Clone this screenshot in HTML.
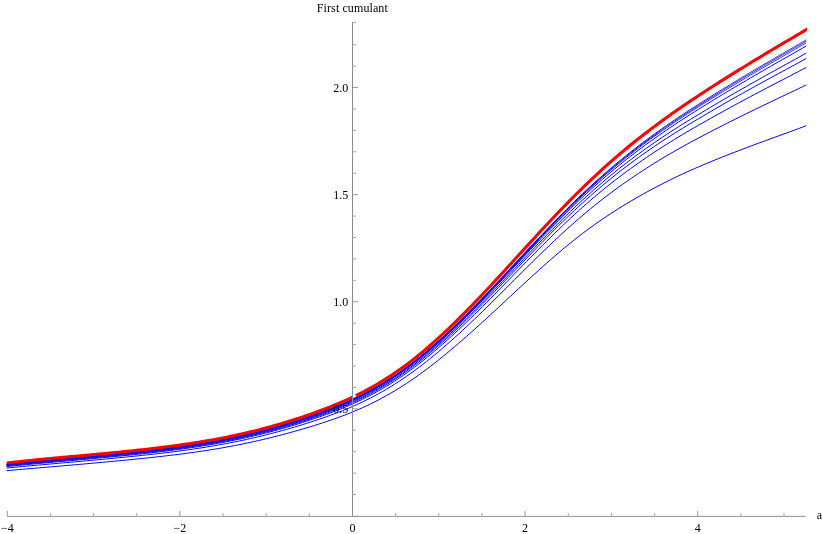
<!DOCTYPE html>
<html><head><meta charset="utf-8"><title>First cumulant</title>
<style>
html,body{margin:0;padding:0;background:#fff;}
body{width:822px;height:534px;overflow:hidden;}
svg{display:block;will-change:transform;}
text{font-family:"Liberation Serif",serif;font-size:12px;fill:#000;}
.ax{stroke:#8a8a8a;stroke-width:1;fill:none;}
.axh{stroke:#939393;stroke-width:1;fill:none;}
.tk{stroke:#989898;stroke-width:1;fill:none;}
.tkm{stroke:#a6a6a6;stroke-width:1;fill:none;}
.b{stroke:#0000ff;stroke-width:1.0;fill:none;stroke-linejoin:round;}
.t{stroke-width:1.15;}
.t2{stroke-width:0.8;}
.r{stroke:#ff0000;stroke-width:3.05;fill:none;stroke-linejoin:round;}
</style></head>
<body>
<svg width="822" height="534" viewBox="0 0 822 534">
<rect x="0" y="0" width="822" height="534" fill="#ffffff"/>
<defs><clipPath id="cb"><rect x="6.6" y="0" width="799.6" height="534"/></clipPath>
<clipPath id="cr"><rect x="6.6" y="0" width="800.4" height="534"/></clipPath></defs>
<g clip-path="url(#cb)">
<path class="b" d="M2.7,470.98 L6.7,470.62 L10.7,470.27 L14.7,469.93 L18.7,469.58 L22.7,469.24 L26.7,468.90 L30.7,468.57 L34.7,468.23 L38.7,467.89 L42.7,467.55 L46.7,467.21 L50.7,466.87 L54.7,466.53 L58.7,466.19 L62.7,465.84 L66.7,465.50 L70.7,465.16 L74.7,464.81 L78.7,464.46 L82.7,464.10 L86.7,463.74 L90.7,463.38 L94.7,463.02 L98.7,462.65 L102.7,462.28 L106.7,461.91 L110.7,461.54 L114.7,461.16 L118.7,460.78 L122.7,460.40 L126.7,460.02 L130.7,459.63 L134.7,459.23 L138.7,458.83 L142.7,458.42 L146.7,458.00 L150.7,457.58 L154.7,457.14 L158.7,456.70 L162.7,456.25 L166.7,455.79 L170.7,455.32 L174.7,454.83 L178.7,454.33 L182.7,453.82 L186.7,453.30 L190.7,452.76 L194.7,452.20 L198.7,451.63 L202.7,451.03 L206.7,450.42 L210.7,449.79 L214.7,449.14 L218.7,448.46 L222.7,447.77 L226.7,447.05 L230.7,446.32 L234.7,445.56 L238.7,444.77 L242.7,443.97 L246.7,443.14 L250.7,442.28 L254.7,441.40 L258.7,440.50 L262.7,439.57 L266.7,438.62 L270.7,437.65 L274.7,436.65 L278.7,435.63 L282.7,434.58 L286.7,433.52 L290.7,432.43 L294.7,431.31 L298.7,430.17 L302.7,429.01 L306.7,427.82 L310.7,426.61 L314.7,425.37 L318.7,424.11 L322.7,422.82 L326.7,421.50 L330.7,420.15 L334.7,418.75 L338.7,417.32 L342.7,415.84 L346.7,414.30 L350.7,412.71 L354.7,411.07 L358.7,409.36 L362.7,407.59 L366.7,405.75 L370.7,403.84 L374.7,401.86 L378.7,399.81 L382.7,397.68 L386.7,395.48 L390.7,393.20 L394.7,390.84 L398.7,388.41 L402.7,385.89 L406.7,383.29 L410.7,380.62 L414.7,377.87 L418.7,375.05 L422.7,372.15 L426.7,369.18 L430.7,366.15 L434.7,363.05 L438.7,359.88 L442.7,356.67 L446.7,353.39 L450.7,350.07 L454.7,346.70 L458.7,343.28 L462.7,339.81 L466.7,336.31 L470.7,332.77 L474.7,329.19 L478.7,325.58 L482.7,321.95 L486.7,318.29 L490.7,314.61 L494.7,310.91 L498.7,307.20 L502.7,303.48 L506.7,299.75 L510.7,296.02 L514.7,292.30 L518.7,288.58 L522.7,284.88 L526.7,281.18 L530.7,277.51 L534.7,273.87 L538.7,270.25 L542.7,266.67 L546.7,263.12 L550.7,259.61 L554.7,256.14 L558.7,252.72 L562.7,249.35 L566.7,246.03 L570.7,242.77 L574.7,239.57 L578.7,236.43 L582.7,233.36 L586.7,230.35 L590.7,227.41 L594.7,224.54 L598.7,221.73 L602.7,218.98 L606.7,216.29 L610.7,213.65 L614.7,211.07 L618.7,208.54 L622.7,206.06 L626.7,203.63 L630.7,201.24 L634.7,198.90 L638.7,196.60 L642.7,194.34 L646.7,192.12 L650.7,189.94 L654.7,187.80 L658.7,185.70 L662.7,183.64 L666.7,181.62 L670.7,179.64 L674.7,177.70 L678.7,175.79 L682.7,173.92 L686.7,172.09 L690.7,170.29 L694.7,168.53 L698.7,166.79 L702.7,165.08 L706.7,163.39 L710.7,161.74 L714.7,160.10 L718.7,158.48 L722.7,156.88 L726.7,155.30 L730.7,153.74 L734.7,152.19 L738.7,150.65 L742.7,149.13 L746.7,147.62 L750.7,146.12 L754.7,144.63 L758.7,143.15 L762.7,141.68 L766.7,140.22 L770.7,138.76 L774.7,137.31 L778.7,135.86 L782.7,134.41 L786.7,132.96 L790.7,131.51 L794.7,130.04 L798.7,128.56 L802.7,127.06 L806.7,125.54 L810.7,123.98"/>
<path class="b" d="M2.7,468.42 L6.7,468.03 L10.7,467.64 L14.7,467.26 L18.7,466.88 L22.7,466.51 L26.7,466.14 L30.7,465.78 L34.7,465.42 L38.7,465.06 L42.7,464.70 L46.7,464.34 L50.7,463.98 L54.7,463.63 L58.7,463.27 L62.7,462.92 L66.7,462.56 L70.7,462.21 L74.7,461.85 L78.7,461.50 L82.7,461.14 L86.7,460.77 L90.7,460.41 L94.7,460.04 L98.7,459.67 L102.7,459.29 L106.7,458.92 L110.7,458.54 L114.7,458.16 L118.7,457.77 L122.7,457.38 L126.7,456.99 L130.7,456.59 L134.7,456.18 L138.7,455.77 L142.7,455.34 L146.7,454.91 L150.7,454.47 L154.7,454.02 L158.7,453.56 L162.7,453.09 L166.7,452.61 L170.7,452.12 L174.7,451.61 L178.7,451.09 L182.7,450.56 L186.7,450.01 L190.7,449.44 L194.7,448.86 L198.7,448.26 L202.7,447.64 L206.7,447.00 L210.7,446.34 L214.7,445.66 L218.7,444.96 L222.7,444.24 L226.7,443.49 L230.7,442.72 L234.7,441.93 L238.7,441.12 L242.7,440.27 L246.7,439.41 L250.7,438.51 L254.7,437.60 L258.7,436.65 L262.7,435.68 L266.7,434.69 L270.7,433.67 L274.7,432.62 L278.7,431.55 L282.7,430.46 L286.7,429.33 L290.7,428.18 L294.7,427.01 L298.7,425.81 L302.7,424.58 L306.7,423.32 L310.7,422.04 L314.7,420.72 L318.7,419.38 L322.7,418.01 L326.7,416.61 L330.7,415.17 L334.7,413.69 L338.7,412.17 L342.7,410.60 L346.7,408.97 L350.7,407.29 L354.7,405.54 L358.7,403.73 L362.7,401.86 L366.7,399.91 L370.7,397.90 L374.7,395.81 L378.7,393.64 L382.7,391.40 L386.7,389.07 L390.7,386.67 L394.7,384.18 L398.7,381.61 L402.7,378.96 L406.7,376.22 L410.7,373.40 L414.7,370.50 L418.7,367.52 L422.7,364.47 L426.7,361.33 L430.7,358.12 L434.7,354.85 L438.7,351.51 L442.7,348.10 L446.7,344.64 L450.7,341.12 L454.7,337.54 L458.7,333.92 L462.7,330.24 L466.7,326.52 L470.7,322.76 L474.7,318.96 L478.7,315.12 L482.7,311.25 L486.7,307.35 L490.7,303.42 L494.7,299.48 L498.7,295.51 L502.7,291.53 L506.7,287.55 L510.7,283.55 L514.7,279.56 L518.7,275.56 L522.7,271.58 L526.7,267.61 L530.7,263.65 L534.7,259.71 L538.7,255.79 L542.7,251.91 L546.7,248.05 L550.7,244.23 L554.7,240.45 L558.7,236.71 L562.7,233.01 L566.7,229.36 L570.7,225.76 L574.7,222.21 L578.7,218.72 L582.7,215.30 L586.7,211.93 L590.7,208.63 L594.7,205.38 L598.7,202.20 L602.7,199.07 L606.7,195.99 L610.7,192.97 L614.7,190.01 L618.7,187.09 L622.7,184.23 L626.7,181.43 L630.7,178.67 L634.7,175.96 L638.7,173.29 L642.7,170.67 L646.7,168.09 L650.7,165.54 L654.7,163.04 L658.7,160.58 L662.7,158.15 L666.7,155.77 L670.7,153.42 L674.7,151.11 L678.7,148.83 L682.7,146.59 L686.7,144.38 L690.7,142.20 L694.7,140.05 L698.7,137.93 L702.7,135.81 L706.7,133.70 L710.7,131.61 L714.7,129.53 L718.7,127.48 L722.7,125.44 L726.7,123.42 L730.7,121.41 L734.7,119.42 L738.7,117.43 L742.7,115.46 L746.7,113.50 L750.7,111.54 L754.7,109.60 L758.7,107.67 L762.7,105.74 L766.7,103.82 L770.7,101.91 L774.7,100.01 L778.7,98.10 L782.7,96.20 L786.7,94.30 L790.7,92.40 L794.7,90.49 L798.7,88.56 L802.7,86.63 L806.7,84.68 L810.7,82.78"/>
<path class="b" d="M2.7,466.99 L6.7,466.58 L10.7,466.17 L14.7,465.77 L18.7,465.38 L22.7,464.99 L26.7,464.61 L30.7,464.24 L34.7,463.86 L38.7,463.49 L42.7,463.13 L46.7,462.76 L50.7,462.40 L54.7,462.04 L58.7,461.68 L62.7,461.32 L66.7,460.97 L70.7,460.61 L74.7,460.26 L78.7,459.90 L82.7,459.54 L86.7,459.18 L90.7,458.81 L94.7,458.44 L98.7,458.07 L102.7,457.70 L106.7,457.33 L110.7,456.95 L114.7,456.57 L118.7,456.18 L122.7,455.79 L126.7,455.39 L130.7,454.99 L134.7,454.58 L138.7,454.16 L142.7,453.74 L146.7,453.30 L150.7,452.86 L154.7,452.40 L158.7,451.94 L162.7,451.46 L166.7,450.97 L170.7,450.47 L174.7,449.95 L178.7,449.43 L182.7,448.88 L186.7,448.32 L190.7,447.75 L194.7,447.16 L198.7,446.55 L202.7,445.92 L206.7,445.27 L210.7,444.60 L214.7,443.91 L218.7,443.19 L222.7,442.46 L226.7,441.70 L230.7,440.92 L234.7,440.12 L238.7,439.29 L242.7,438.43 L246.7,437.55 L250.7,436.64 L254.7,435.71 L258.7,434.75 L262.7,433.76 L266.7,432.75 L270.7,431.71 L274.7,430.65 L278.7,429.56 L282.7,428.44 L286.7,427.29 L290.7,426.12 L294.7,424.92 L298.7,423.69 L302.7,422.43 L306.7,421.14 L310.7,419.83 L314.7,418.49 L318.7,417.11 L322.7,415.71 L326.7,414.27 L330.7,412.80 L334.7,411.28 L338.7,409.72 L342.7,408.11 L346.7,406.44 L350.7,404.72 L354.7,402.93 L358.7,401.08 L362.7,399.15 L366.7,397.16 L370.7,395.10 L374.7,392.96 L378.7,390.74 L382.7,388.44 L386.7,386.06 L390.7,383.60 L394.7,381.06 L398.7,378.43 L402.7,375.71 L406.7,372.91 L410.7,370.03 L414.7,367.06 L418.7,364.01 L422.7,360.88 L426.7,357.67 L430.7,354.39 L434.7,351.03 L438.7,347.61 L442.7,344.12 L446.7,340.57 L450.7,336.96 L454.7,333.30 L458.7,329.58 L462.7,325.81 L466.7,321.99 L470.7,318.13 L474.7,314.23 L478.7,310.29 L482.7,306.31 L486.7,302.31 L490.7,298.27 L494.7,294.22 L498.7,290.14 L502.7,286.05 L506.7,281.94 L510.7,277.83 L514.7,273.71 L518.7,269.60 L522.7,265.49 L526.7,261.39 L530.7,257.31 L534.7,253.24 L538.7,249.19 L542.7,245.17 L546.7,241.18 L550.7,237.22 L554.7,233.30 L558.7,229.42 L562.7,225.58 L566.7,221.78 L570.7,218.03 L574.7,214.34 L578.7,210.70 L582.7,207.12 L586.7,203.59 L590.7,200.13 L594.7,196.72 L598.7,193.37 L602.7,190.08 L606.7,186.84 L610.7,183.65 L614.7,180.52 L618.7,177.44 L622.7,174.42 L626.7,171.46 L630.7,168.54 L634.7,165.67 L638.7,162.85 L642.7,160.07 L646.7,157.33 L650.7,154.64 L654.7,151.98 L658.7,149.37 L662.7,146.79 L666.7,144.25 L670.7,141.75 L674.7,139.29 L678.7,136.85 L682.7,134.46 L686.7,132.09 L690.7,129.76 L694.7,127.45 L698.7,125.17 L702.7,122.88 L706.7,120.60 L710.7,118.33 L714.7,116.09 L718.7,113.86 L722.7,111.64 L726.7,109.44 L730.7,107.26 L734.7,105.08 L738.7,102.92 L742.7,100.77 L746.7,98.63 L750.7,96.50 L754.7,94.37 L758.7,92.26 L762.7,90.15 L766.7,88.06 L770.7,85.97 L774.7,83.88 L778.7,81.80 L782.7,79.73 L786.7,77.65 L790.7,75.57 L794.7,73.49 L798.7,71.40 L802.7,69.29 L806.7,67.19 L810.7,65.13"/>
<path class="b" d="M2.7,466.32 L6.7,465.89 L10.7,465.47 L14.7,465.07 L18.7,464.67 L22.7,464.27 L26.7,463.88 L30.7,463.50 L34.7,463.12 L38.7,462.75 L42.7,462.38 L46.7,462.01 L50.7,461.64 L54.7,461.28 L58.7,460.92 L62.7,460.56 L66.7,460.20 L70.7,459.85 L74.7,459.49 L78.7,459.13 L82.7,458.77 L86.7,458.41 L90.7,458.04 L94.7,457.67 L98.7,457.30 L102.7,456.93 L106.7,456.56 L110.7,456.18 L114.7,455.80 L118.7,455.41 L122.7,455.02 L126.7,454.62 L130.7,454.21 L134.7,453.80 L138.7,453.38 L142.7,452.95 L146.7,452.52 L150.7,452.07 L154.7,451.61 L158.7,451.14 L162.7,450.66 L166.7,450.17 L170.7,449.66 L174.7,449.14 L178.7,448.61 L182.7,448.06 L186.7,447.50 L190.7,446.92 L194.7,446.32 L198.7,445.70 L202.7,445.07 L206.7,444.41 L210.7,443.74 L214.7,443.04 L218.7,442.32 L222.7,441.58 L226.7,440.82 L230.7,440.03 L234.7,439.22 L238.7,438.38 L242.7,437.52 L246.7,436.63 L250.7,435.71 L254.7,434.77 L258.7,433.80 L262.7,432.81 L266.7,431.78 L270.7,430.74 L274.7,429.66 L278.7,428.56 L282.7,427.43 L286.7,426.27 L290.7,425.08 L294.7,423.87 L298.7,422.62 L302.7,421.35 L306.7,420.05 L310.7,418.72 L314.7,417.36 L318.7,415.96 L322.7,414.54 L326.7,413.09 L330.7,411.59 L334.7,410.06 L338.7,408.48 L342.7,406.84 L346.7,405.16 L350.7,403.41 L354.7,401.60 L358.7,399.72 L362.7,397.78 L366.7,395.76 L370.7,393.67 L374.7,391.50 L378.7,389.26 L382.7,386.93 L386.7,384.52 L390.7,382.03 L394.7,379.46 L398.7,376.80 L402.7,374.05 L406.7,371.21 L410.7,368.30 L414.7,365.29 L418.7,362.21 L422.7,359.04 L426.7,355.79 L430.7,352.47 L434.7,349.07 L438.7,345.60 L442.7,342.07 L446.7,338.48 L450.7,334.82 L454.7,331.11 L458.7,327.34 L462.7,323.52 L466.7,319.65 L470.7,315.74 L474.7,311.78 L478.7,307.79 L482.7,303.76 L486.7,299.69 L490.7,295.60 L494.7,291.49 L498.7,287.35 L502.7,283.19 L506.7,279.03 L510.7,274.85 L514.7,270.67 L518.7,266.49 L522.7,262.32 L526.7,258.15 L530.7,254.00 L534.7,249.86 L538.7,245.75 L542.7,241.66 L546.7,237.59 L550.7,233.56 L554.7,229.56 L558.7,225.60 L562.7,221.69 L566.7,217.81 L570.7,213.98 L574.7,210.21 L578.7,206.48 L582.7,202.82 L586.7,199.21 L590.7,195.66 L594.7,192.17 L598.7,188.73 L602.7,185.35 L606.7,182.02 L610.7,178.74 L614.7,175.52 L618.7,172.34 L622.7,169.24 L626.7,166.20 L630.7,163.21 L634.7,160.27 L638.7,157.37 L642.7,154.52 L646.7,151.71 L650.7,148.94 L654.7,146.21 L658.7,143.53 L662.7,140.88 L666.7,138.27 L670.7,135.70 L674.7,133.16 L678.7,130.66 L682.7,128.19 L686.7,125.75 L690.7,123.34 L694.7,120.96 L698.7,118.61 L702.7,116.24 L706.7,113.87 L710.7,111.52 L714.7,109.18 L718.7,106.86 L722.7,104.56 L726.7,102.27 L730.7,99.99 L734.7,97.73 L738.7,95.48 L742.7,93.24 L746.7,91.00 L750.7,88.78 L754.7,86.57 L758.7,84.37 L762.7,82.17 L766.7,79.98 L770.7,77.80 L774.7,75.63 L778.7,73.46 L782.7,71.30 L786.7,69.14 L790.7,66.97 L794.7,64.80 L798.7,62.62 L802.7,60.44 L806.7,58.25 L810.7,56.11"/>
<path class="b" d="M2.7,465.79 L6.7,465.36 L10.7,464.93 L14.7,464.52 L18.7,464.11 L22.7,463.71 L26.7,463.32 L30.7,462.93 L34.7,462.55 L38.7,462.17 L42.7,461.80 L46.7,461.43 L50.7,461.06 L54.7,460.69 L58.7,460.33 L62.7,459.97 L66.7,459.61 L70.7,459.26 L74.7,458.90 L78.7,458.54 L82.7,458.18 L86.7,457.82 L90.7,457.45 L94.7,457.08 L98.7,456.71 L102.7,456.34 L106.7,455.97 L110.7,455.59 L114.7,455.21 L118.7,454.82 L122.7,454.43 L126.7,454.03 L130.7,453.62 L134.7,453.21 L138.7,452.79 L142.7,452.36 L146.7,451.92 L150.7,451.47 L154.7,451.01 L158.7,450.53 L162.7,450.05 L166.7,449.55 L170.7,449.05 L174.7,448.52 L178.7,447.99 L182.7,447.44 L186.7,446.87 L190.7,446.29 L194.7,445.68 L198.7,445.06 L202.7,444.43 L206.7,443.77 L210.7,443.09 L214.7,442.38 L218.7,441.66 L222.7,440.92 L226.7,440.15 L230.7,439.36 L234.7,438.54 L238.7,437.70 L242.7,436.83 L246.7,435.93 L250.7,435.01 L254.7,434.06 L258.7,433.09 L262.7,432.09 L266.7,431.06 L270.7,430.00 L274.7,428.92 L278.7,427.81 L282.7,426.67 L286.7,425.50 L290.7,424.30 L294.7,423.08 L298.7,421.83 L302.7,420.54 L306.7,419.23 L310.7,417.89 L314.7,416.51 L318.7,415.11 L322.7,413.67 L326.7,412.21 L330.7,410.70 L334.7,409.15 L338.7,407.55 L342.7,405.91 L346.7,404.20 L350.7,402.44 L354.7,400.62 L358.7,398.72 L362.7,396.76 L366.7,394.72 L370.7,392.62 L374.7,390.43 L378.7,388.17 L382.7,385.82 L386.7,383.40 L390.7,380.89 L394.7,378.29 L398.7,375.61 L402.7,372.84 L406.7,369.98 L410.7,367.04 L414.7,364.02 L418.7,360.91 L422.7,357.71 L426.7,354.44 L430.7,351.09 L434.7,347.66 L438.7,344.17 L442.7,340.61 L446.7,336.98 L450.7,333.29 L454.7,329.55 L458.7,325.75 L462.7,321.90 L466.7,318.00 L470.7,314.05 L474.7,310.06 L478.7,306.03 L482.7,301.96 L486.7,297.86 L490.7,293.73 L494.7,289.58 L498.7,285.40 L502.7,281.21 L506.7,277.00 L510.7,272.79 L514.7,268.57 L518.7,264.35 L522.7,260.13 L526.7,255.92 L530.7,251.72 L534.7,247.54 L538.7,243.38 L542.7,239.25 L546.7,235.14 L550.7,231.06 L554.7,227.02 L558.7,223.01 L562.7,219.04 L566.7,215.12 L570.7,211.24 L574.7,207.42 L578.7,203.64 L582.7,199.93 L586.7,196.27 L590.7,192.66 L594.7,189.12 L598.7,185.62 L602.7,182.19 L606.7,178.80 L610.7,175.47 L614.7,172.19 L618.7,168.96 L622.7,165.81 L626.7,162.73 L630.7,159.69 L634.7,156.70 L638.7,153.76 L642.7,150.87 L646.7,148.02 L650.7,145.21 L654.7,142.44 L658.7,139.72 L662.7,137.03 L666.7,134.38 L670.7,131.76 L674.7,129.19 L678.7,126.64 L682.7,124.13 L686.7,121.66 L690.7,119.21 L694.7,116.79 L698.7,114.40 L702.7,111.99 L706.7,109.57 L710.7,107.17 L714.7,104.79 L718.7,102.43 L722.7,100.08 L726.7,97.74 L730.7,95.42 L734.7,93.11 L738.7,90.81 L742.7,88.52 L746.7,86.25 L750.7,83.98 L754.7,81.72 L758.7,79.48 L762.7,77.24 L766.7,75.01 L770.7,72.78 L774.7,70.57 L778.7,68.36 L782.7,66.15 L786.7,63.95 L790.7,61.74 L794.7,59.53 L798.7,57.32 L802.7,55.09 L806.7,52.86 L810.7,50.68"/>
<path class="b" d="M2.7,465.26 L6.7,464.82 L10.7,464.39 L14.7,463.97 L18.7,463.56 L22.7,463.15 L26.7,462.76 L30.7,462.36 L34.7,461.98 L38.7,461.60 L42.7,461.22 L46.7,460.84 L50.7,460.47 L54.7,460.10 L58.7,459.74 L62.7,459.38 L66.7,459.02 L70.7,458.66 L74.7,458.30 L78.7,457.94 L82.7,457.58 L86.7,457.22 L90.7,456.85 L94.7,456.48 L98.7,456.11 L102.7,455.74 L106.7,455.37 L110.7,454.99 L114.7,454.60 L118.7,454.22 L122.7,453.82 L126.7,453.42 L130.7,453.02 L134.7,452.60 L138.7,452.18 L142.7,451.74 L146.7,451.30 L150.7,450.85 L154.7,450.39 L158.7,449.91 L162.7,449.43 L166.7,448.93 L170.7,448.41 L174.7,447.89 L178.7,447.35 L182.7,446.79 L186.7,446.22 L190.7,445.63 L194.7,445.03 L198.7,444.40 L202.7,443.76 L206.7,443.10 L210.7,442.41 L214.7,441.71 L218.7,440.98 L222.7,440.23 L226.7,439.45 L230.7,438.66 L234.7,437.83 L238.7,436.98 L242.7,436.11 L246.7,435.21 L250.7,434.28 L254.7,433.33 L258.7,432.35 L262.7,431.34 L266.7,430.30 L270.7,429.24 L274.7,428.14 L278.7,427.02 L282.7,425.87 L286.7,424.70 L290.7,423.49 L294.7,422.26 L298.7,420.99 L302.7,419.69 L306.7,418.37 L310.7,417.01 L314.7,415.63 L318.7,414.21 L322.7,412.76 L326.7,411.28 L330.7,409.75 L334.7,408.19 L338.7,406.58 L342.7,404.91 L346.7,403.19 L350.7,401.42 L354.7,399.57 L358.7,397.66 L362.7,395.68 L366.7,393.63 L370.7,391.51 L374.7,389.31 L378.7,387.02 L382.7,384.66 L386.7,382.22 L390.7,379.69 L394.7,377.07 L398.7,374.37 L402.7,371.58 L406.7,368.70 L410.7,365.73 L414.7,362.68 L418.7,359.55 L422.7,356.33 L426.7,353.03 L430.7,349.65 L434.7,346.20 L438.7,342.68 L442.7,339.09 L446.7,335.44 L450.7,331.72 L454.7,327.94 L458.7,324.11 L462.7,320.23 L466.7,316.29 L470.7,312.31 L474.7,308.29 L478.7,304.22 L482.7,300.12 L486.7,295.99 L490.7,291.82 L494.7,287.63 L498.7,283.42 L502.7,279.19 L506.7,274.94 L510.7,270.69 L514.7,266.43 L518.7,262.17 L522.7,257.91 L526.7,253.66 L530.7,249.42 L534.7,245.20 L538.7,241.00 L542.7,236.82 L546.7,232.67 L550.7,228.55 L554.7,224.46 L558.7,220.41 L562.7,216.40 L566.7,212.43 L570.7,208.51 L574.7,204.63 L578.7,200.81 L582.7,197.05 L586.7,193.34 L590.7,189.69 L594.7,186.09 L598.7,182.55 L602.7,179.06 L606.7,175.62 L610.7,172.24 L614.7,168.91 L618.7,165.64 L622.7,162.41 L626.7,159.24 L630.7,156.12 L634.7,153.04 L638.7,150.01 L642.7,147.03 L646.7,144.09 L650.7,141.19 L654.7,138.33 L658.7,135.51 L662.7,132.73 L666.7,129.99 L670.7,127.28 L674.7,124.60 L678.7,121.96 L682.7,119.35 L686.7,116.78 L690.7,114.23 L694.7,111.71 L698.7,109.21 L702.7,106.71 L706.7,104.23 L710.7,101.76 L714.7,99.31 L718.7,96.87 L722.7,94.45 L726.7,92.05 L730.7,89.65 L734.7,87.27 L738.7,84.90 L742.7,82.54 L746.7,80.19 L750.7,77.85 L754.7,75.52 L758.7,73.20 L762.7,70.89 L766.7,68.59 L770.7,66.29 L774.7,64.01 L778.7,61.73 L782.7,59.45 L786.7,57.17 L790.7,54.90 L794.7,52.62 L798.7,50.34 L802.7,48.04 L806.7,45.75 L810.7,43.51"/>
<path class="b" style="stroke-width:1.15" d="M2.7,464.96 L6.7,464.52 L10.7,464.08 L14.7,463.66 L18.7,463.24 L22.7,462.83 L26.7,462.43 L30.7,462.04 L34.7,461.65 L38.7,461.26 L42.7,460.88 L46.7,460.51 L50.7,460.14 L54.7,459.77 L58.7,459.40 L62.7,459.04 L66.7,458.68 L70.7,458.32 L74.7,457.96 L78.7,457.60 L82.7,457.24 L86.7,456.87 L90.7,456.51 L94.7,456.14 L98.7,455.77 L102.7,455.40 L106.7,455.02 L110.7,454.64 L114.7,454.26 L118.7,453.87 L122.7,453.48 L126.7,453.08 L130.7,452.67 L134.7,452.25 L138.7,451.83 L142.7,451.40 L146.7,450.95 L150.7,450.50 L154.7,450.03 L158.7,449.56 L162.7,449.07 L166.7,448.57 L170.7,448.05 L174.7,447.52 L178.7,446.98 L182.7,446.42 L186.7,445.85 L190.7,445.26 L194.7,444.65 L198.7,444.03 L202.7,443.38 L206.7,442.71 L210.7,442.03 L214.7,441.32 L218.7,440.59 L222.7,439.83 L226.7,439.06 L230.7,438.26 L234.7,437.43 L238.7,436.58 L242.7,435.70 L246.7,434.80 L250.7,433.86 L254.7,432.91 L258.7,431.92 L262.7,430.91 L266.7,429.87 L270.7,428.80 L274.7,427.70 L278.7,426.57 L282.7,425.42 L286.7,424.24 L290.7,423.03 L294.7,421.78 L298.7,420.51 L302.7,419.21 L306.7,417.88 L310.7,416.51 L314.7,415.12 L318.7,413.69 L322.7,412.24 L326.7,410.74 L330.7,409.21 L334.7,407.64 L338.7,406.02 L342.7,404.34 L346.7,402.62 L350.7,400.83 L354.7,398.98 L358.7,397.06 L362.7,395.07 L366.7,393.01 L370.7,390.87 L374.7,388.66 L378.7,386.37 L382.7,383.99 L386.7,381.53 L390.7,378.99 L394.7,376.36 L398.7,373.65 L402.7,370.85 L406.7,367.95 L410.7,364.98 L414.7,361.91 L418.7,358.76 L422.7,355.53 L426.7,352.21 L430.7,348.82 L434.7,345.35 L438.7,341.81 L442.7,338.20 L446.7,334.53 L450.7,330.80 L454.7,327.00 L458.7,323.15 L462.7,319.25 L466.7,315.29 L470.7,311.29 L474.7,307.25 L478.7,303.16"/>
<path class="b" style="stroke-width:1.08" d="M478.7,303.16 L482.7,299.04 L486.7,294.88 L490.7,290.69 L494.7,286.48 L498.7,282.24 L502.7,277.99 L506.7,273.72 L510.7,269.44 L514.7,265.16 L518.7,260.87 L522.7,256.59 L526.7,252.31 L530.7,248.05 L534.7,243.80 L538.7,239.57"/>
<path class="b" style="stroke-width:1.0" d="M538.7,239.57 L542.7,235.37 L546.7,231.19 L550.7,227.04 L554.7,222.92 L558.7,218.84 L562.7,214.80 L566.7,210.80 L570.7,206.85 L574.7,202.95 L578.7,199.10 L582.7,195.30 L586.7,191.56 L590.7,187.88 L594.7,184.25 L598.7,180.67"/>
<path class="b" style="stroke-width:0.93" d="M598.7,180.67 L602.7,177.15 L606.7,173.68 L610.7,170.27 L614.7,166.91 L618.7,163.60 L622.7,160.35 L626.7,157.15 L630.7,154.00 L634.7,150.90 L638.7,147.85 L642.7,144.84 L646.7,141.87 L650.7,138.95 L654.7,136.07 L658.7,133.23"/>
<path class="b" style="stroke-width:0.86" d="M658.7,133.23 L662.7,130.43 L666.7,127.66 L670.7,124.93 L674.7,122.23 L678.7,119.57 L682.7,116.94 L686.7,114.34 L690.7,111.77 L694.7,109.23 L698.7,106.71 L702.7,104.19 L706.7,101.68 L710.7,99.18 L714.7,96.71 L718.7,94.24"/>
<path class="b" style="stroke-width:0.8" d="M718.7,94.24 L722.7,91.80 L726.7,89.36 L730.7,86.94 L734.7,84.54 L738.7,82.14 L742.7,79.75 L746.7,77.38 L750.7,75.01 L754.7,72.66 L758.7,70.31 L762.7,67.98 L766.7,65.65 L770.7,63.33 L774.7,61.02 L778.7,58.71 L782.7,56.41 L786.7,54.11 L790.7,51.82 L794.7,49.51 L798.7,47.21 L802.7,44.89 L806.7,42.58 L810.7,40.31"/>
<path class="b" style="stroke-width:1.15" d="M2.7,464.81 L6.7,464.36 L10.7,463.93 L14.7,463.50 L18.7,463.08 L22.7,462.67 L26.7,462.27 L30.7,461.87 L34.7,461.48 L38.7,461.10 L42.7,460.72 L46.7,460.34 L50.7,459.97 L54.7,459.60 L58.7,459.23 L62.7,458.87 L66.7,458.51 L70.7,458.15 L74.7,457.79 L78.7,457.43 L82.7,457.07 L86.7,456.70 L90.7,456.34 L94.7,455.97 L98.7,455.60 L102.7,455.23 L106.7,454.85 L110.7,454.47 L114.7,454.09 L118.7,453.70 L122.7,453.30 L126.7,452.90 L130.7,452.50 L134.7,452.08 L138.7,451.65 L142.7,451.22 L146.7,450.78 L150.7,450.32 L154.7,449.86 L158.7,449.38 L162.7,448.89 L166.7,448.39 L170.7,447.87 L174.7,447.34 L178.7,446.80 L182.7,446.24 L186.7,445.67 L190.7,445.08 L194.7,444.47 L198.7,443.84 L202.7,443.19 L206.7,442.52 L210.7,441.83 L214.7,441.12 L218.7,440.39 L222.7,439.64 L226.7,438.86 L230.7,438.06 L234.7,437.23 L238.7,436.38 L242.7,435.50 L246.7,434.59 L250.7,433.66 L254.7,432.70 L258.7,431.71 L262.7,430.69 L266.7,429.65 L270.7,428.58 L274.7,427.48 L278.7,426.35 L282.7,425.19 L286.7,424.01 L290.7,422.79 L294.7,421.55 L298.7,420.27 L302.7,418.97 L306.7,417.63 L310.7,416.26 L314.7,414.87 L318.7,413.44 L322.7,411.97 L326.7,410.48 L330.7,408.94 L334.7,407.36 L338.7,405.74 L342.7,404.06 L346.7,402.33 L350.7,400.54 L354.7,398.68 L358.7,396.75 L362.7,394.76 L366.7,392.69 L370.7,390.55 L374.7,388.33 L378.7,386.03 L382.7,383.66 L386.7,381.19 L390.7,378.64 L394.7,376.01 L398.7,373.29 L402.7,370.48 L406.7,367.58 L410.7,364.59 L414.7,361.52 L418.7,358.36 L422.7,355.12 L426.7,351.80 L430.7,348.40 L434.7,344.92 L438.7,341.37 L442.7,337.75 L446.7,334.07 L450.7,330.33 L454.7,326.52 L458.7,322.66 L462.7,318.75 L466.7,314.78 L470.7,310.77 L474.7,306.71 L478.7,302.62"/>
<path class="b" style="stroke-width:1.08" d="M478.7,302.62 L482.7,298.48 L486.7,294.31 L490.7,290.11 L494.7,285.89 L498.7,281.64 L502.7,277.37 L506.7,273.09 L510.7,268.80 L514.7,264.50 L518.7,260.20 L522.7,255.90 L526.7,251.62 L530.7,247.34 L534.7,243.08 L538.7,238.83"/>
<path class="b" style="stroke-width:1.0" d="M538.7,238.83 L542.7,234.61 L546.7,230.42 L550.7,226.26 L554.7,222.12 L558.7,218.03 L562.7,213.97 L566.7,209.96 L570.7,205.99 L574.7,202.07 L578.7,198.20 L582.7,194.39 L586.7,190.63 L590.7,186.93 L594.7,183.28 L598.7,179.69"/>
<path class="b" style="stroke-width:0.93" d="M598.7,179.69 L602.7,176.15 L606.7,172.66 L610.7,169.23 L614.7,165.85 L618.7,162.52 L622.7,159.26 L626.7,156.04 L630.7,152.88 L634.7,149.77 L638.7,146.70 L642.7,143.67 L646.7,140.70 L650.7,137.76 L654.7,134.87 L658.7,132.01"/>
<path class="b" style="stroke-width:0.86" d="M658.7,132.01 L662.7,129.19 L666.7,126.41 L670.7,123.67 L674.7,120.96 L678.7,118.28 L682.7,115.64 L686.7,113.03 L690.7,110.45 L694.7,107.89 L698.7,105.36 L702.7,102.82 L706.7,100.30 L710.7,97.79 L714.7,95.30 L718.7,92.83"/>
<path class="b" style="stroke-width:0.8" d="M718.7,92.83 L722.7,90.37 L726.7,87.93 L730.7,85.50 L734.7,83.08 L738.7,80.67 L742.7,78.27 L746.7,75.88 L750.7,73.51 L754.7,71.14 L758.7,68.79 L762.7,66.44 L766.7,64.10 L770.7,61.77 L774.7,59.45 L778.7,57.14 L782.7,54.83 L786.7,52.52 L790.7,50.21 L794.7,47.90 L798.7,45.59 L802.7,43.27 L806.7,40.94 L810.7,38.66"/>
<path class="b" style="stroke-width:1.15" d="M2.7,464.66 L6.7,464.21 L10.7,463.77 L14.7,463.34 L18.7,462.92 L22.7,462.51 L26.7,462.11 L30.7,461.71 L34.7,461.32 L38.7,460.93 L42.7,460.55 L46.7,460.17 L50.7,459.80 L54.7,459.43 L58.7,459.06 L62.7,458.70 L66.7,458.34 L70.7,457.98 L74.7,457.62 L78.7,457.26 L82.7,456.90 L86.7,456.53 L90.7,456.17 L94.7,455.80 L98.7,455.43 L102.7,455.06 L106.7,454.68 L110.7,454.30 L114.7,453.92 L118.7,453.53 L122.7,453.13 L126.7,452.73 L130.7,452.32 L134.7,451.91 L138.7,451.48 L142.7,451.05 L146.7,450.60 L150.7,450.15 L154.7,449.68 L158.7,449.20 L162.7,448.71 L166.7,448.21 L170.7,447.69 L174.7,447.16 L178.7,446.62 L182.7,446.06 L186.7,445.48 L190.7,444.89 L194.7,444.28 L198.7,443.65 L202.7,443.00 L206.7,442.33 L210.7,441.64 L214.7,440.93 L218.7,440.20 L222.7,439.44 L226.7,438.66 L230.7,437.86 L234.7,437.03 L238.7,436.17 L242.7,435.29 L246.7,434.38 L250.7,433.45 L254.7,432.49 L258.7,431.50 L262.7,430.48 L266.7,429.43 L270.7,428.36 L274.7,427.26 L278.7,426.13 L282.7,424.97 L286.7,423.78 L290.7,422.56 L294.7,421.31 L298.7,420.03 L302.7,418.72 L306.7,417.39 L310.7,416.01 L314.7,414.61 L318.7,413.18 L322.7,411.71 L326.7,410.21 L330.7,408.67 L334.7,407.09 L338.7,405.46 L342.7,403.78 L346.7,402.04 L350.7,400.24 L354.7,398.38 L358.7,396.45 L362.7,394.45 L366.7,392.38 L370.7,390.23 L374.7,388.01 L378.7,385.71 L382.7,383.32 L386.7,380.86 L390.7,378.30 L394.7,375.66 L398.7,372.93 L402.7,370.12 L406.7,367.21 L410.7,364.22 L414.7,361.14 L418.7,357.98 L422.7,354.73 L426.7,351.40 L430.7,347.99 L434.7,344.51 L438.7,340.95 L442.7,337.33 L446.7,333.64 L450.7,329.88 L454.7,326.07 L458.7,322.20 L462.7,318.28 L466.7,314.30 L470.7,310.28 L474.7,306.22 L478.7,302.11"/>
<path class="b" style="stroke-width:1.08" d="M478.7,302.11 L482.7,297.96 L486.7,293.79 L490.7,289.58 L494.7,285.34 L498.7,281.08 L502.7,276.80 L506.7,272.51 L510.7,268.21 L514.7,263.90 L518.7,259.59 L522.7,255.29 L526.7,250.99 L530.7,246.70 L534.7,242.43 L538.7,238.17"/>
<path class="b" style="stroke-width:1.0" d="M538.7,238.17 L542.7,233.94 L546.7,229.73 L550.7,225.56 L554.7,221.42 L558.7,217.31 L562.7,213.24 L566.7,209.21 L570.7,205.23 L574.7,201.30 L578.7,197.42 L582.7,193.59 L586.7,189.82 L590.7,186.11 L594.7,182.45 L598.7,178.84"/>
<path class="b" style="stroke-width:0.93" d="M598.7,178.84 L602.7,175.29 L606.7,171.79 L610.7,168.35 L614.7,164.95 L618.7,161.61 L622.7,158.33 L626.7,155.10 L630.7,151.92 L634.7,148.79 L638.7,145.71 L642.7,142.67 L646.7,139.68 L650.7,136.73 L654.7,133.82 L658.7,130.95"/>
<path class="b" style="stroke-width:0.86" d="M658.7,130.95 L662.7,128.12 L666.7,125.32 L670.7,122.56 L674.7,119.84 L678.7,117.15 L682.7,114.49 L686.7,111.86 L690.7,109.26 L694.7,106.69 L698.7,104.15 L702.7,101.60 L706.7,99.07 L710.7,96.56 L714.7,94.06 L718.7,91.58"/>
<path class="b" style="stroke-width:0.8" d="M718.7,91.58 L722.7,89.11 L726.7,86.66 L730.7,84.23 L734.7,81.80 L738.7,79.39 L742.7,76.98 L746.7,74.59 L750.7,72.21 L754.7,69.84 L758.7,67.48 L762.7,65.13 L766.7,62.78 L770.7,60.45 L774.7,58.13 L778.7,55.81 L782.7,53.49 L786.7,51.18 L790.7,48.88 L794.7,46.57 L798.7,44.25 L802.7,41.92 L806.7,39.60 L810.7,37.30"/>
</g>
<g clip-path="url(#cr)">
<path class="r" d="M2.7,463.46 L6.7,462.99 L10.7,462.54 L14.7,462.09 L18.7,461.66 L22.7,461.23 L26.7,460.82 L30.7,460.41 L34.7,460.01 L38.7,459.62 L42.7,459.23 L46.7,458.84 L50.7,458.46 L54.7,458.09 L58.7,457.72 L62.7,457.35 L66.7,456.99 L70.7,456.63 L74.7,456.27 L78.7,455.91 L82.7,455.55 L86.7,455.18 L90.7,454.82 L94.7,454.45 L98.7,454.08 L102.7,453.71 L106.7,453.33 L110.7,452.95 L114.7,452.57 L118.7,452.18 L122.7,451.78 L126.7,451.38 L130.7,450.97 L134.7,450.55 L138.7,450.12 L142.7,449.68 L146.7,449.23 L150.7,448.77 L154.7,448.30 L158.7,447.82 L162.7,447.32 L166.7,446.81 L170.7,446.29 L174.7,445.75 L178.7,445.20 L182.7,444.63 L186.7,444.05 L190.7,443.45 L194.7,442.83 L198.7,442.19 L202.7,441.54 L206.7,440.86 L210.7,440.16 L214.7,439.44 L218.7,438.69 L222.7,437.93 L226.7,437.14 L230.7,436.32 L234.7,435.48 L238.7,434.61 L242.7,433.72 L246.7,432.80 L250.7,431.85 L254.7,430.88 L258.7,429.87 L262.7,428.84 L266.7,427.78 L270.7,426.69 L274.7,425.57 L278.7,424.42 L282.7,423.24 L286.7,422.03 L290.7,420.79 L294.7,419.52 L298.7,418.22 L302.7,416.89 L306.7,415.52 L310.7,414.13 L314.7,412.70 L318.7,411.24 L322.7,409.74 L326.7,408.21 L330.7,406.64 L334.7,405.02 L338.7,403.36 L342.7,401.64 L346.7,399.87 L350.7,398.04 L353.0,396.96 M355.8,395.61 L359.8,393.63 L363.8,391.58 L367.8,389.45 L371.8,387.25 L375.8,384.97 L379.8,382.61 L383.8,380.17 L387.8,377.64 L391.8,375.02 L395.8,372.31 L399.8,369.52 L403.8,366.64 L407.8,363.66 L411.8,360.60 L415.8,357.45 L419.8,354.21 L423.8,350.89 L427.8,347.49 L431.8,344.01 L435.8,340.45 L439.8,336.81 L443.8,333.11 L447.8,329.35 L451.8,325.52 L455.8,321.62 L459.8,317.68 L463.8,313.67 L467.8,309.62 L471.8,305.52 L475.8,301.38 L479.8,297.19 L483.8,292.97 L487.8,288.71 L491.8,284.42 L495.8,280.10 L499.8,275.76 L503.8,271.41 L507.8,267.04 L511.8,262.66 L515.8,258.27 L519.8,253.88 L523.8,249.50 L527.8,245.12 L531.8,240.76 L535.8,236.41 L539.8,232.08 L543.8,227.77 L547.8,223.49 L551.8,219.24 L555.8,215.02 L559.8,210.84 L563.8,206.69 L567.8,202.59 L571.8,198.53 L575.8,194.52 L579.8,190.57 L583.8,186.66 L587.8,182.81 L591.8,179.02 L595.8,175.28 L599.8,171.60 L603.8,167.96 L607.8,164.38 L611.8,160.86 L615.8,157.39 L619.8,153.97 L623.8,150.60 L627.8,147.28 L631.8,144.02 L635.8,140.80 L639.8,137.63 L643.8,134.51 L647.8,131.44 L651.8,128.40 L655.8,125.41 L659.8,122.46 L663.8,119.54 L667.8,116.66 L671.8,113.82 L675.8,111.01 L679.8,108.23 L683.8,105.49 L687.8,102.78 L691.8,100.09 L695.8,97.43 L699.8,94.79 L703.8,92.18 L707.8,89.58 L711.8,87.00 L715.8,84.44 L719.8,81.90 L723.8,79.37 L727.8,76.86 L731.8,74.36 L735.8,71.87 L739.8,69.40 L743.8,66.94 L747.8,64.49 L751.8,62.05 L755.8,59.62 L759.8,57.20 L763.8,54.80 L767.8,52.40 L771.8,50.02 L775.8,47.64 L779.8,45.28 L783.8,42.92 L787.8,40.56 L791.8,38.21 L795.8,35.85 L799.8,33.49 L803.8,31.13 L807.8,28.76 L811.8,26.37"/>
</g>
<g>
<line x1="7" y1="516.4" x2="805.7" y2="516.4" class="axh"/>
<line x1="352.5" y1="22" x2="352.5" y2="516.9" class="ax"/>
<line x1="7.30" y1="516.4" x2="7.30" y2="511.00" class="tk"/>
<line x1="50.45" y1="516.4" x2="50.45" y2="513.00" class="tkm"/>
<line x1="93.60" y1="516.4" x2="93.60" y2="513.00" class="tkm"/>
<line x1="136.75" y1="516.4" x2="136.75" y2="513.00" class="tkm"/>
<line x1="179.90" y1="516.4" x2="179.90" y2="511.00" class="tk"/>
<line x1="223.05" y1="516.4" x2="223.05" y2="513.00" class="tkm"/>
<line x1="266.20" y1="516.4" x2="266.20" y2="513.00" class="tkm"/>
<line x1="309.35" y1="516.4" x2="309.35" y2="513.00" class="tkm"/>
<line x1="395.65" y1="516.4" x2="395.65" y2="513.00" class="tkm"/>
<line x1="438.80" y1="516.4" x2="438.80" y2="513.00" class="tkm"/>
<line x1="481.95" y1="516.4" x2="481.95" y2="513.00" class="tkm"/>
<line x1="525.10" y1="516.4" x2="525.10" y2="511.00" class="tk"/>
<line x1="568.25" y1="516.4" x2="568.25" y2="513.00" class="tkm"/>
<line x1="611.40" y1="516.4" x2="611.40" y2="513.00" class="tkm"/>
<line x1="654.55" y1="516.4" x2="654.55" y2="513.00" class="tkm"/>
<line x1="697.70" y1="516.4" x2="697.70" y2="511.00" class="tk"/>
<line x1="740.85" y1="516.4" x2="740.85" y2="513.00" class="tkm"/>
<line x1="784.00" y1="516.4" x2="784.00" y2="513.00" class="tkm"/>
<line x1="352.5" y1="516.40" x2="358.00" y2="516.40" class="tk"/>
<line x1="352.5" y1="494.53" x2="356.00" y2="494.53" class="tkm"/>
<line x1="352.5" y1="473.11" x2="356.00" y2="473.11" class="tkm"/>
<line x1="352.5" y1="451.69" x2="356.00" y2="451.69" class="tkm"/>
<line x1="352.5" y1="430.27" x2="356.00" y2="430.27" class="tkm"/>
<line x1="352.5" y1="408.85" x2="358.00" y2="408.85" class="tk"/>
<line x1="352.5" y1="387.43" x2="356.00" y2="387.43" class="tkm"/>
<line x1="352.5" y1="366.01" x2="356.00" y2="366.01" class="tkm"/>
<line x1="352.5" y1="344.59" x2="356.00" y2="344.59" class="tkm"/>
<line x1="352.5" y1="323.17" x2="356.00" y2="323.17" class="tkm"/>
<line x1="352.5" y1="301.75" x2="358.00" y2="301.75" class="tk"/>
<line x1="352.5" y1="280.33" x2="356.00" y2="280.33" class="tkm"/>
<line x1="352.5" y1="258.91" x2="356.00" y2="258.91" class="tkm"/>
<line x1="352.5" y1="237.49" x2="356.00" y2="237.49" class="tkm"/>
<line x1="352.5" y1="216.07" x2="356.00" y2="216.07" class="tkm"/>
<line x1="352.5" y1="194.65" x2="358.00" y2="194.65" class="tk"/>
<line x1="352.5" y1="173.23" x2="356.00" y2="173.23" class="tkm"/>
<line x1="352.5" y1="151.81" x2="356.00" y2="151.81" class="tkm"/>
<line x1="352.5" y1="130.39" x2="356.00" y2="130.39" class="tkm"/>
<line x1="352.5" y1="108.97" x2="356.00" y2="108.97" class="tkm"/>
<line x1="352.5" y1="87.55" x2="358.00" y2="87.55" class="tk"/>
<line x1="352.5" y1="66.13" x2="356.00" y2="66.13" class="tkm"/>
<line x1="352.5" y1="44.71" x2="356.00" y2="44.71" class="tkm"/>
<line x1="352.5" y1="22.50" x2="356.00" y2="22.50" class="tkm"/>
</g>
<g>
<text x="7.3" y="531.7" text-anchor="middle">−4</text>
<text x="179.9" y="531.7" text-anchor="middle">−2</text>
<text x="352.5" y="531.7" text-anchor="middle">0</text>
<text x="525.1" y="531.7" text-anchor="middle">2</text>
<text x="697.7" y="531.7" text-anchor="middle">4</text>
<text x="348.3" y="413.0" text-anchor="end">0.5</text>
<text x="348.3" y="305.9" text-anchor="end">1.0</text>
<text x="348.3" y="198.8" text-anchor="end">1.5</text>
<text x="348.3" y="91.6" text-anchor="end">2.0</text>
<text x="316.8" y="11.7" textLength="71" lengthAdjust="spacing">First cumulant</text>
<text x="816.8" y="519">a</text>
</g>
</svg>
</body></html>
